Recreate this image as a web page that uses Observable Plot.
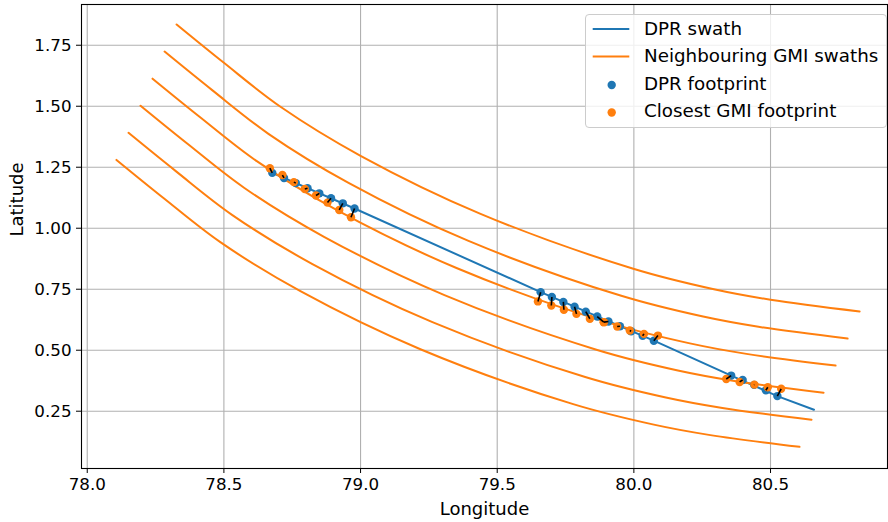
<!DOCTYPE html>
<html>
<head>
<meta charset="utf-8">
<script src="https://cdn.jsdelivr.net/npm/d3@7"></script>
<script src="https://cdn.jsdelivr.net/npm/@observablehq/plot@0.6"></script>
<style>
  html, body { margin: 0; padding: 0; background: white; }
  #wrap { position: relative; width: 888px; height: 522px; font-family: "DejaVu Sans", sans-serif; color: black; }
  #legend { position: absolute; left: 585px; top: 14px; width: 302px; height: 114px; box-sizing: border-box;
            border: 1px solid #cccccc; border-radius: 4px; background: rgba(255,255,255,0.8); }
  #legend .lab { position: absolute; left: 58px; font-size: 18.3px; line-height: 18px; white-space: nowrap; }
  #legend svg { position: absolute; left: 0; top: 0; }
</style>
</head>
<body>
<div id="wrap"><div id="chart"></div><div id="legend"></div></div>
<script>
// ---- data ----
const xTicks = [78.0, 78.5, 79.0, 79.5, 80.0, 80.5];
const yTicks = [0.25, 0.5, 0.75, 1.0, 1.25, 1.5, 1.75];

const dprSwathLon = [78.677, 78.978, 79.659, 80.073, 80.356, 80.525, 80.659];
const dprSwathLat = [1.227, 1.081, 0.738, 0.539, 0.396, 0.312, 0.256];

const gmiSwath1Lon = [78.327, 78.500, 78.707, 79.000, 79.439, 79.998, 80.293, 80.500, 80.826];
const gmiSwath1Lat = [1.835, 1.678, 1.498, 1.297, 1.059, 0.834, 0.750, 0.707, 0.659];
const gmiSwath2Lon = [78.283, 78.456, 78.663, 78.956, 79.395, 79.954, 80.249, 80.456, 80.782];
const gmiSwath2Lat = [1.724, 1.567, 1.387, 1.186, 0.948, 0.723, 0.639, 0.596, 0.548];
const gmiSwath3Lon = [78.239, 78.412, 78.619, 78.912, 79.351, 79.910, 80.205, 80.412, 80.738];
const gmiSwath3Lat = [1.613, 1.456, 1.276, 1.075, 0.837, 0.612, 0.528, 0.485, 0.437];
const gmiSwath4Lon = [78.195, 78.368, 78.575, 78.868, 79.307, 79.866, 80.161, 80.368, 80.694];
const gmiSwath4Lat = [1.502, 1.345, 1.165, 0.964, 0.726, 0.501, 0.417, 0.374, 0.326];
const gmiSwath5Lon = [78.151, 78.324, 78.531, 78.824, 79.263, 79.822, 80.117, 80.324, 80.650];
const gmiSwath5Lat = [1.391, 1.234, 1.054, 0.853, 0.615, 0.390, 0.306, 0.263, 0.215];
const gmiSwath6Lon = [78.107, 78.280, 78.487, 78.780, 79.219, 79.778, 80.073, 80.280, 80.606];
const gmiSwath6Lat = [1.280, 1.123, 0.943, 0.742, 0.504, 0.279, 0.195, 0.152, 0.104];

const dprFootLon = [78.677, 78.720, 78.763, 78.806, 78.849, 78.892, 78.935, 78.978,
                    79.659, 79.700, 79.742, 79.783, 79.824, 79.866, 79.907, 79.949, 79.990, 80.032, 80.073,
                    80.356, 80.398, 80.440, 80.483, 80.525];
const dprFootLat = [1.227, 1.206, 1.185, 1.164, 1.143, 1.123, 1.102, 1.081,
                    0.738, 0.718, 0.698, 0.678, 0.658, 0.638, 0.618, 0.598, 0.578, 0.559, 0.539,
                    0.396, 0.378, 0.358, 0.336, 0.312];
const gmiFootLon = [78.668, 78.714, 78.756, 78.796, 78.837, 78.879, 78.922, 78.965,
                    79.649, 79.698, 79.744, 79.790, 79.839, 79.890, 79.890, 79.939, 79.985, 80.037, 80.088,
                    80.338, 80.387, 80.441, 80.490, 80.539];
const gmiFootLat = [1.246, 1.218, 1.189, 1.161, 1.134, 1.105, 1.075, 1.045,
                    0.700, 0.683, 0.666, 0.649, 0.629, 0.615, 0.615, 0.597, 0.581, 0.567, 0.560,
                    0.382, 0.370, 0.359, 0.348, 0.342];

const legendLabels = ["DPR swath", "Neighbouring GMI swaths", "DPR footprint", "Closest GMI footprint"];
const xLabel = "Longitude";
const yLabel = "Latitude";

const BLUE = "#1f77b4", ORANGE = "#ff7f0e";

// ---- tables ----
const dprSwath = dprSwathLon.map((x, i) => ({x, y: dprSwathLat[i]}));
const gmiSwathLons = [gmiSwath1Lon, gmiSwath2Lon, gmiSwath3Lon, gmiSwath4Lon, gmiSwath5Lon, gmiSwath6Lon];
const gmiSwathLats = [gmiSwath1Lat, gmiSwath2Lat, gmiSwath3Lat, gmiSwath4Lat, gmiSwath5Lat, gmiSwath6Lat];
const gmiSwaths = gmiSwathLons.flatMap((lons, k) => lons.map((x, i) => ({x, y: gmiSwathLats[k][i], s: k})));
const pairs = dprFootLon.map((x, i) => ({x1: x, y1: dprFootLat[i], x2: gmiFootLon[i], y2: gmiFootLat[i]}));

const chart = Plot.plot({
  width: 888, height: 522,
  marginLeft: 81, marginRight: 1, marginTop: 4, marginBottom: 54,
  style: {fontFamily: "'DejaVu Sans', sans-serif", fontSize: "16.7px", color: "black", background: "white"},
  x: {domain: [77.979, 80.928], label: null},
  y: {domain: [0.0152, 1.917], label: null},
  marks: [
    Plot.gridX(xTicks, {stroke: "#b0b0b0", strokeOpacity: 1, strokeWidth: 1.1}),
    Plot.gridY(yTicks, {stroke: "#b0b0b0", strokeOpacity: 1, strokeWidth: 1.1}),
    Plot.line(dprSwath, {x: "x", y: "y", stroke: BLUE, strokeWidth: 2}),
    Plot.line(gmiSwaths, {x: "x", y: "y", z: "s", stroke: ORANGE, strokeWidth: 2, curve: "catmull-rom"}),
    Plot.dot(pairs, {x: "x1", y: "y1", r: 4.2, fill: BLUE}),
    Plot.dot(pairs, {x: "x2", y: "y2", r: 4.2, fill: ORANGE}),
    Plot.link(pairs, {x1: "x1", y1: "y1", x2: "x2", y2: "y2", stroke: "black", strokeWidth: 1.6}),
    Plot.frame({stroke: "black", strokeWidth: 1.1}),
    Plot.axisX(xTicks, {tickFormat: d => d.toFixed(1), tickSize: 5, tickPadding: 5, label: null, fontSize: 16.7}),
    Plot.axisY(yTicks, {tickFormat: d => d.toFixed(2), tickSize: 5, tickPadding: 5, label: null, fontSize: 16.7}),
    Plot.text([xLabel], {text: d => d, frameAnchor: "bottom", dy: 46, fontSize: 18}),
    Plot.text([yLabel], {text: d => d, frameAnchor: "left", dx: -64, rotate: -90, fontSize: 18})
  ]
});
document.getElementById("chart").appendChild(chart);

// ---- legend ----
const legend = document.getElementById("legend");
const rows = [14, 41.5, 69, 96.5];
const ns = "http://www.w3.org/2000/svg";
const sw = document.createElementNS(ns, "svg");
sw.setAttribute("width", 56); sw.setAttribute("height", 112);
const kinds = ["line", "line", "dot", "dot"];
const colors = [BLUE, ORANGE, BLUE, ORANGE];
legendLabels.forEach((t, i) => {
  if (kinds[i] === "line") {
    const l = document.createElementNS(ns, "line");
    l.setAttribute("x1", 6.7); l.setAttribute("x2", 43.3);
    l.setAttribute("y1", rows[i]); l.setAttribute("y2", rows[i]);
    l.setAttribute("stroke", colors[i]); l.setAttribute("stroke-width", 2);
    sw.appendChild(l);
  } else {
    const c = document.createElementNS(ns, "circle");
    c.setAttribute("cx", 25.7); c.setAttribute("cy", rows[i] + 1); c.setAttribute("r", 4.2);
    c.setAttribute("fill", colors[i]);
    sw.appendChild(c);
  }
  const s = document.createElement("span");
  s.className = "lab"; s.textContent = t; s.style.top = (rows[i] - 9.5) + "px";
  legend.appendChild(s);
});
legend.appendChild(sw);
</script>
</body>
</html>
